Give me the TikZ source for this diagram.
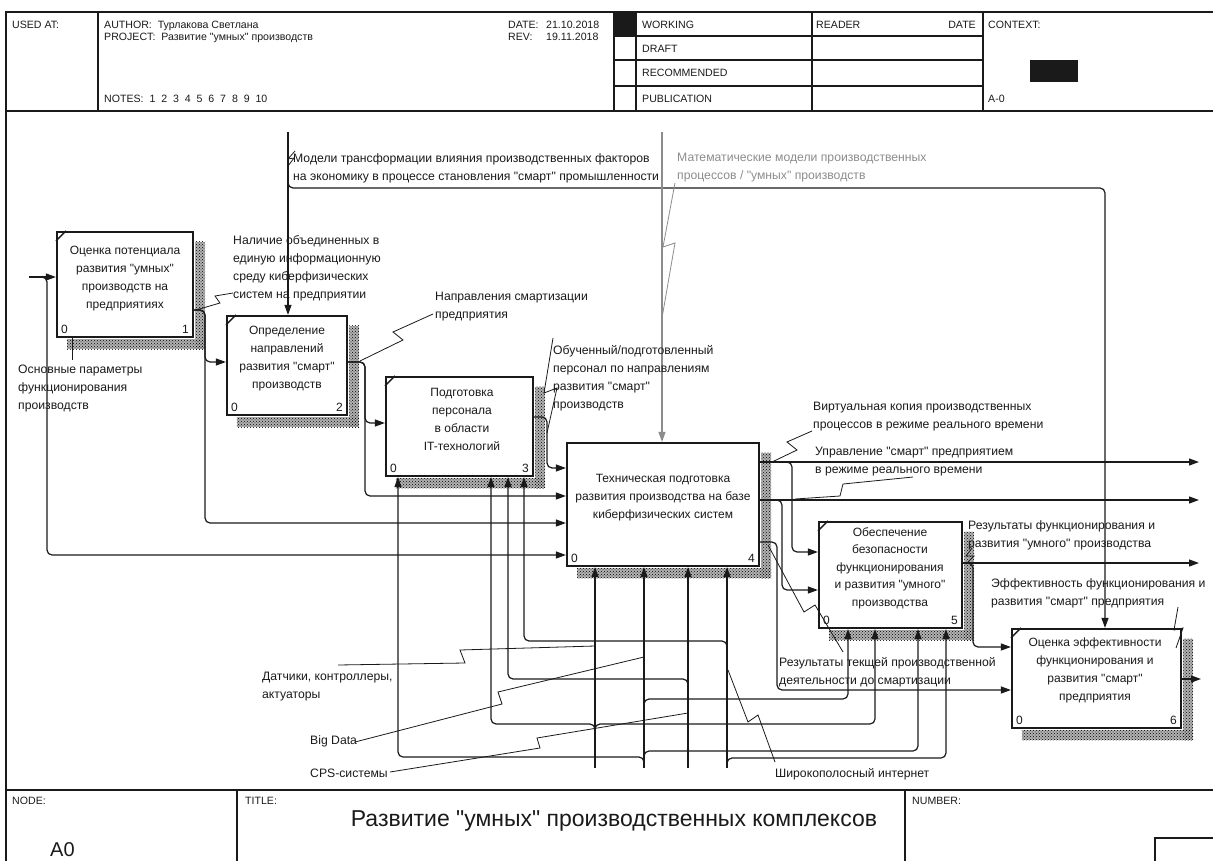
\documentclass[tikz,border=0pt]{standalone}
\usepackage{fontspec}
\setmainfont{Liberation Sans}[Ligatures=TeXOff]
\usetikzlibrary{arrows.meta,patterns,calc}
\definecolor{ink}{HTML}{1A1A1A}
\definecolor{grayink}{HTML}{8C8C8C}
\newcommand{\firststrut}{\rule{0pt}{9pt}}
\begin{document}
\begin{tikzpicture}[x=1pt,y=-1pt,
  frm/.style={line width=1.3pt, draw=ink},
  hdr/.style={anchor=base west, inner sep=0pt, font=\fontsize{10.6}{12}\selectfont, text=ink},
  lbl/.style={anchor=north west, align=left, inner sep=0pt, font=\fontsize{12.2}{18}\selectfont, text=ink, execute at begin node=\firststrut},
  btext/.style={anchor=north, align=center, inner sep=0pt, font=\fontsize{12}{18}\selectfont, text=ink, execute at begin node=\firststrut},
  fbox/.style={draw=ink, line width=2.2pt, fill=white, inner sep=0pt},
  num/.style={inner sep=0pt, font=\fontsize{12}{14}\selectfont, text=ink},
  conn/.style={draw=ink, line width=1.2pt, -{Triangle[length=10pt,width=7pt]}},
  gconn/.style={draw=grayink, line width=1.2pt, -{Triangle[length=10pt,width=7pt]}},
  rc/.style={rounded corners=5pt},
  leader/.style={draw=ink, line width=0.8pt},
  gleader/.style={draw=grayink, line width=0.8pt},
  shdfill/.style={fill=black!30},
  shd/.style={pattern=crosshatch dots, pattern color=black},
  cmark/.style={draw=ink, line width=1.4pt}
]
\useasboundingbox (0,0) rectangle (1213,861);

% ---------- frame, header, footer ----------
\draw[frm] (1213,12) -- (6,12) -- (6,861);
\draw[frm] (6,111) -- (1213,111);
\draw[frm] (98,12) -- (98,111);
\draw[frm] (614,12) -- (614,111);
\draw[frm] (636,12) -- (636,111);
\draw[frm] (812,12) -- (812,111);
\draw[frm] (983,12) -- (983,111);
\draw[frm] (614,36) -- (983,36);
\draw[frm] (614,60) -- (983,60);
\draw[frm] (614,86) -- (983,86);
\fill[ink] (614,12) rectangle (636,36);
\fill[ink] (1030,60) rectangle (1078,82);

\node[hdr] (hused) at (12,29) {USED AT:};
\node[hdr] (hauth) at (104,29) {AUTHOR:\ \ Турлакова Светлана};
\node[hdr] (hproj) at (104,41) {PROJECT:\ \ Развитие "умных" производств};
\node[hdr] (hnotes) at (104,103) {NOTES:\ \ 1\ \ 2\ \ 3\ \ 4\ \ 5\ \ 6\ \ 7\ \ 8\ \ 9\ \ 10};
\node[hdr] (hdate) at (508,29) {DATE:};
\node[hdr] (hdatev) at (546,29) {21.10.2018};
\node[hdr] (hrev) at (508,41) {REV:};
\node[hdr] (hrevv) at (546,41) {19.11.2018};
\node[hdr] (hwork) at (642,29) {WORKING};
\node[hdr] (hdraft) at (642,53) {DRAFT};
\node[hdr] (hrec) at (642,77) {RECOMMENDED};
\node[hdr] (hpub) at (642,103) {PUBLICATION};
\node[hdr] (hreader) at (816,29) {READER};
\node[hdr, anchor=base east] (hrdate) at (976,29) {DATE};
\node[hdr] (hctx) at (988,29) {CONTEXT:};
\node[hdr] (ha0) at (988,103) {A-0};

\draw[frm] (6,790) -- (1213,790);
\draw[frm] (237,790) -- (237,861);
\draw[frm] (905,790) -- (905,861);
\draw[frm] (1213,838) -- (1155,838) -- (1155,861);
\node[hdr] (fnode) at (12,804) {NODE:};
\node[hdr] (ftitle) at (245,804) {TITLE:};
\node[hdr] (fnum) at (912,804) {NUMBER:};
\node[inner sep=0pt, anchor=base, font=\fontsize{23}{26}\selectfont, text=ink] (ftitletext) at (614,826) {Развитие "умных" производственных комплексов};
\node[inner sep=0pt, anchor=base west, font=\fontsize{20}{24}\selectfont, text=ink] (fa0) at (50,856) {A0};

% ---------- boxes ----------
\node[fbox, minimum width=136pt, minimum height=105pt] (b1) at (125,284.5) {};
\node[fbox, minimum width=120pt, minimum height=99pt] (b2) at (287,365.5) {};
\node[fbox, minimum width=147pt, minimum height=99pt] (b3) at (459.5,426.5) {};
\node[fbox, minimum width=192pt, minimum height=123pt] (b4) at (663,504.5) {};
\node[fbox, minimum width=143pt, minimum height=106pt] (b5) at (890.5,575) {};
\node[fbox, minimum width=169pt, minimum height=99pt] (b6) at (1096.5,678.5) {};

\foreach \b in {b1,b2,b3,b4,b5,b6} {
  \fill[shdfill] ($(\b.north east)+(1.2,11)$) rectangle ($(\b.south east)+(11,11)$);
  \fill[shdfill] ($(\b.south west)+(11,1.2)$) rectangle ($(\b.south east)+(11,11)$);
  \fill[shd] ($(\b.north east)+(1.2,11)$) rectangle ($(\b.south east)+(11,11)$);
  \fill[shd] ($(\b.south west)+(11,1.2)$) rectangle ($(\b.south east)+(11,11)$);
}
\foreach \b in {b1,b2,b3,b5,b6} {
  \draw[cmark] ($(\b.north west)+(0,10)$) -- ($(\b.north west)+(10,0)$);
}

\node[btext] (b1t) at (125,246) {Оценка потенциала\\развития "умных"\\производств на\\предприятиях};
\node[btext] (b2t) at (287,326) {Определение\\направлений\\развития "смарт"\\производств};
\node[btext] (b3t) at (462,388) {Подготовка\\персонала\\в области\\IT-технологий};
\node[btext] (b4t) at (663,474) {Техническая подготовка\\развития производства на базе\\киберфизических систем};
\node[btext, font=\fontsize{12}{17.5}\selectfont] (b5t) at (890,527) {Обеспечение\\безопасности\\функционирования\\и развития "умного"\\производства};
\node[btext] (b6t) at (1095,638) {Оценка эффективности\\функционирования и\\развития "смарт"\\предприятия};

\foreach \b/\n in {b1/1,b2/2,b3/3,b4/4,b5/5,b6/6} {
  \node[num, anchor=base west] (\b z) at ($(\b.south west)+(5,-5)$) {0};
  \node[num, anchor=base east] (\b k) at ($(\b.south east)+(-5,-5)$) {\n};
}

% ---------- free ends ----------
\coordinate (ctop) at (288,132);
\coordinate (cturn) at (1105,188);
\coordinate (gtop) at (662,132);
\coordinate (in1) at (29,277);
\coordinate (o41) at (1199,462);
\coordinate (o42) at (1199,500);
\coordinate (o5) at (1199,563);
\coordinate (o6) at (1201,679);
\coordinate (m1) at (595,768);
\coordinate (m2) at (644,768);
\coordinate (m3) at (688,768);
\coordinate (m4) at (727,768);

% ---------- controls ----------
\draw[conn] (ctop) -- (b2.north -| ctop);
\draw[conn, rc] (288,178) -- (ctop |- cturn) -- (cturn) -- (b6.north -| cturn);
\draw[gconn] (gtop) -- (b4.north -| gtop);

% ---------- inputs / outputs ----------
\draw[conn] (in1) -- (b1.west |- in1);
\draw[conn, rc] (in1) -- (47,277) -- (47,555) -- (b4.west |- 0,555);

\draw[conn, rc] (b1.east |- 0,310) -- (205,310) -- (205,362) -- (b2.west |- 0,362);
\draw[conn, rc] (b1.east |- 0,310) -- (205,310) -- (205,523) -- (b4.west |- 0,523);

\draw[conn, rc] (b2.east |- 0,362) -- (365,362) -- (365,423) -- (b3.west |- 0,423);
\draw[conn, rc] (b2.east |- 0,362) -- (365,362) -- (365,496) -- (b4.west |- 0,496);

\draw[conn, rc] (b3.east |- 0,417) -- (547,417) -- (547,468) -- (b4.west |- 0,468);

\draw[conn] (b4.east |- o41) -- (o41);
\draw[conn, rc] (b4.east |- o41) -- (792,462) -- (792,552) -- (b5.west |- 0,552);
\draw[conn] (b4.east |- o42) -- (o42);
\draw[conn, rc] (b4.east |- o42) -- (782,500) -- (782,590) -- (b5.west |- 0,590);
\draw[conn, rc] (b4.east |- 0,542) -- (777,542) -- (777,690) -- (b6.west |- 0,690);

\draw[conn] (b5.east |- o5) -- (o5);
\draw[conn, rc] (b5.east |- o5) -- (973,563) -- (973,647) -- (b6.west |- 0,647);

\draw[conn] (b6.east |- o6) -- (o6);

% ---------- mechanisms ----------
\draw[conn] (m1) -- (b4.south -| m1);
\draw[conn, rc] (595,732) -- (595,724) -- (491,724) -- (b3.south -| 491,0);
\draw[conn, rc] (595,732) -- (595,724) -- (875,724) -- (b5.south -| 875,0);

\draw[conn] (m2) -- (b4.south -| m2);
\draw[conn, rc] (644,708) -- (644,699) -- (848,699) -- (b5.south -| 848,0);
\draw[conn, rc] (644,765) -- (644,757) -- (398,757) -- (b3.south -| 398,0);
\draw[conn, rc] (644,760) -- (644,751) -- (918,751) -- (b5.south -| 918,0);

\draw[conn] (m3) -- (b4.south -| m3);
\draw[conn, rc] (688,687) -- (688,679) -- (508,679) -- (b3.south -| 508,0);

\draw[conn] (m4) -- (b4.south -| m4);
\draw[conn, rc] (727,649) -- (727,641) -- (524,641) -- (b3.south -| 524,0);
\draw[conn, rc] (727,767) -- (727,758) -- (946,758) -- (b5.south -| 946,0);

% ---------- labels ----------
\node[lbl] (lmod) at (293,153) {Модели трансформации влияния производственных факторов\\на экономику в процессе становления "смарт" промышленности};
\node[lbl, text=grayink] (lmath) at (677,153) {Математические модели производственных\\процессов / "умных" производств};
\node[lbl] (lnal) at (233,235) {Наличие объединенных в\\единую информационную\\среду киберфизических\\систем на предприятии};
\node[lbl] (losn) at (18,365) {Основные параметры\\функционирования\\производств};
\node[lbl] (lnap) at (435,292) {Направления смартизации\\предприятия};
\node[lbl] (lobu) at (553,345) {Обученный/подготовленный\\персонал по направлениям\\развития "смарт"\\производств};
\node[lbl] (lvirt) at (813,402) {Виртуальная копия производственных\\процессов в режиме реального времени};
\node[lbl] (lupr) at (815,447) {Управление "смарт" предприятием\\в режиме реального времени};
\node[lbl] (lres5) at (968,520) {Результаты функционирования и\\развития "умного" производства};
\node[lbl] (leff) at (991,578) {Эффективность функционирования и\\развития "смарт" предприятия};
\node[lbl] (lrtek) at (779,657) {Результаты текщей производственной\\деятельности до смартизации};
\node[lbl] (ldat) at (262,672) {Датчики, контроллеры,\\актуаторы};
\node[lbl] (lbig) at (310,735) {Big Data};
\node[lbl] (lcps) at (310,768) {CPS-системы};
\node[lbl] (linet) at (775,768) {Широкополосный интернет};

% ---------- leaders (squiggles) ----------
\draw[leader] (295,151) -- (288,159) -- (294,158) -- (288,166);
\draw[gleader] (675,183) -- (663,247) -- (675,243) -- (662,318);
\draw[leader] (196,310) -- (220,303) -- (215,296) -- (233,293);
\draw[leader] (72,338) -- (72,360);
\draw[leader] (360,361) -- (403,340) -- (393,332) -- (433,314);
\draw[leader] (553,338) -- (544,393) -- (557,388) -- (547,433);
\draw[leader] (772,462) -- (797,450) -- (787,442) -- (812,431);
\draw[leader] (913,477) -- (843,484) -- (840,496) -- (795,499);
\draw[leader] (972,548) -- (966,556) -- (974,556) -- (966,564);
\draw[leader] (1178,607) -- (1174,630) -- (1183,628) -- (1176,648);
\draw[leader] (843,652) -- (815,605) -- (804,612) -- (768,545);
\draw[leader] (338,665) -- (465,663) -- (460,650) -- (595,646);
\draw[leader] (355,742) -- (502,704) -- (498,692) -- (644,657);
\draw[leader] (390,772) -- (540,748) -- (537,738) -- (688,713);
\draw[leader] (775,762) -- (758,715) -- (748,722) -- (728,670);
\end{tikzpicture}
\end{document}
